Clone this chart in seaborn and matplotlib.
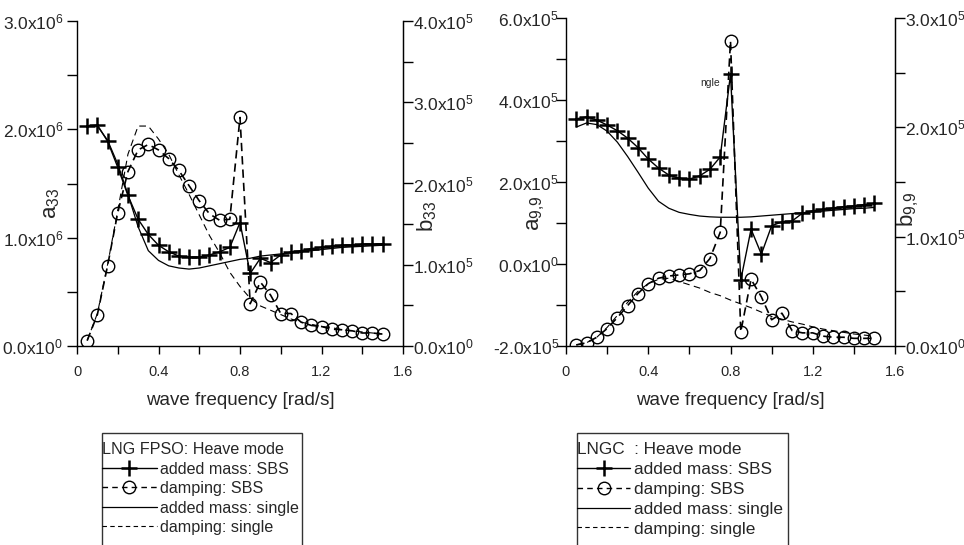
import numpy as np
import matplotlib
matplotlib.use('Agg')
import matplotlib.pyplot as plt
import seaborn as sns
from matplotlib.lines import Line2D
from matplotlib.patches import Rectangle
from matplotlib.ticker import MultipleLocator, FuncFormatter

sns.set_style('white')
plt.rcParams['font.family'] = ['Liberation Sans', 'DejaVu Sans']
plt.rcParams['mathtext.fontset'] = 'custom'
plt.rcParams['mathtext.rm'] = 'Liberation Sans'
plt.rcParams['mathtext.it'] = 'Liberation Sans:italic'

# wave frequency [rad/s]
freq = [0.05, 0.10, 0.15, 0.20, 0.25, 0.30, 0.35, 0.40, 0.45, 0.50,
        0.55, 0.60, 0.65, 0.70, 0.75, 0.80, 0.85, 0.90, 0.95, 1.00,
        1.05, 1.10, 1.15, 1.20, 1.25, 1.30, 1.35, 1.40, 1.45, 1.50]

# LNG FPSO heave: added mass in 1e6, damping in 1e5
fpso_am_sbs = [2.03, 2.04, 1.89, 1.65, 1.39, 1.17, 1.03, 0.93, 0.87, 0.83,
               0.82, 0.82, 0.84, 0.87, 0.91, 1.14, 0.67, 0.81, 0.77, 0.84,
               0.87, 0.88, 0.90, 0.91, 0.92, 0.93, 0.93, 0.94, 0.94, 0.945]
fpso_dmp_sbs = [0.067, 0.387, 0.987, 1.64, 2.147, 2.413, 2.48, 2.413, 2.307, 2.16,
                1.973, 1.787, 1.627, 1.547, 1.56, 2.813, 0.52, 0.787, 0.627, 0.40,
                0.40, 0.293, 0.253, 0.24, 0.207, 0.20, 0.187, 0.16, 0.16, 0.147]
fpso_am_single = [2.03, 2.03, 1.90, 1.68, 1.40, 1.10, 0.88, 0.79, 0.74, 0.72,
                  0.71, 0.72, 0.74, 0.76, 0.78, 0.80, 0.81, 0.83, 0.84, 0.85,
                  0.86, 0.87, 0.88, 0.89, 0.90, 0.91, 0.915, 0.92, 0.925, 0.93]
fpso_dmp_single = [0.067, 0.40, 1.00, 1.667, 2.36, 2.707, 2.707, 2.547, 2.36, 2.107,
                   1.867, 1.613, 1.36, 1.147, 0.907, 0.733, 0.587, 0.493, 0.44, 0.387,
                   0.333, 0.293, 0.267, 0.24, 0.227, 0.20, 0.187, 0.173, 0.16, 0.147]

# LNGC heave: added mass and damping in 1e5
lngc_am_sbs = [3.54, 3.59, 3.51, 3.39, 3.25, 3.07, 2.84, 2.56, 2.34, 2.17,
               2.09, 2.07, 2.15, 2.31, 2.61, 4.63, -0.39, 0.85, 0.24, 0.93,
               1.03, 1.05, 1.24, 1.30, 1.33, 1.37, 1.40, 1.42, 1.45, 1.48]
lngc_dmp_sbs = [0.01, 0.03, 0.08, 0.16, 0.26, 0.37, 0.48, 0.57, 0.62, 0.64,
                0.65, 0.66, 0.69, 0.80, 1.04, 2.79, 0.13, 0.61, 0.45, 0.24,
                0.30, 0.14, 0.12, 0.12, 0.09, 0.08, 0.08, 0.07, 0.07, 0.07]
lngc_am_single = [3.34, 3.44, 3.40, 3.24, 2.97, 2.62, 2.24, 1.85, 1.53, 1.36,
                  1.26, 1.21, 1.17, 1.15, 1.14, 1.14, 1.14, 1.15, 1.17, 1.19,
                  1.21, 1.23, 1.25, 1.27, 1.29, 1.31, 1.33, 1.35, 1.36, 1.38]
lngc_dmp_single = [0.01, 0.03, 0.08, 0.17, 0.28, 0.40, 0.50, 0.57, 0.61, 0.62,
                   0.59, 0.56, 0.53, 0.49, 0.46, 0.42, 0.385, 0.35, 0.31, 0.27,
                   0.245, 0.22, 0.20, 0.175, 0.155, 0.14, 0.125, 0.11, 0.10, 0.09]

legend_labels = ['added mass: SBS', 'damping: SBS', 'added mass: single', 'damping: single']


def sci_fmt(v, pos):
    if v == 0:
        return r'0.0x10$^{0}$'
    e = int(np.floor(np.log10(abs(v))))
    return r'%.1fx10$^{%d}$' % (v / 10**e, e)


def freq_fmt(v, pos):
    return '0' if abs(v) < 1e-9 else '%.1f' % v


def draw_panel(ax, am_sbs, dmp_sbs, am_single, dmp_single, am_scale, dmp_scale):
    axr = ax.twinx()
    sns.lineplot(x=freq, y=np.array(am_single) * am_scale, ax=ax, color='black', lw=0.9)
    sns.lineplot(x=freq, y=np.array(am_sbs) * am_scale, ax=ax, color='black', lw=1.0,
                 marker='+', markersize=11, markeredgewidth=1.8, markeredgecolor='black')
    sns.lineplot(x=freq, y=np.array(dmp_single) * dmp_scale, ax=axr, color='black', lw=0.8,
                 linestyle=(0, (6, 4)))
    sns.lineplot(x=freq, y=np.array(dmp_sbs) * dmp_scale, ax=axr, color='black', lw=1.2,
                 linestyle=(0, (5, 3)), marker='o', markersize=9, markerfacecolor='none',
                 markeredgewidth=1.0, markeredgecolor='black')
    for a in (ax, axr):
        a.spines['top'].set_visible(False)
        a.set_xlim(0, 1.6)
        a.tick_params(which='both', direction='out', length=7, width=1, color='black')
    axr.spines['left'].set_visible(False)
    axr.spines['bottom'].set_visible(False)
    for s in ('left', 'bottom'):
        ax.spines[s].set_color('black')
        ax.spines[s].set_linewidth(1)
    axr.spines['right'].set_color('black')
    axr.spines['right'].set_linewidth(1)
    ax.xaxis.set_major_locator(MultipleLocator(0.4))
    ax.xaxis.set_minor_locator(MultipleLocator(0.2))
    ax.xaxis.set_major_formatter(FuncFormatter(freq_fmt))
    ax.yaxis.set_major_formatter(FuncFormatter(sci_fmt))
    axr.yaxis.set_major_formatter(FuncFormatter(sci_fmt))
    ax.tick_params(axis='x', labelsize=10.5, pad=8, length=6, bottom=True, which='both')
    ax.tick_params(axis='y', labelsize=12.5, pad=3, left=True, which='both')
    axr.tick_params(axis='y', labelsize=12.5, pad=0, right=True, which='both')
    ax.set_xlabel('wave frequency [rad/s]', fontsize=13.5, labelpad=9)
    return axr


fig = plt.figure(figsize=(9.64, 5.45), dpi=100)
ax1 = fig.add_axes([77 / 964, 1 - 346 / 545, 326 / 964, 325 / 545])
ax2 = fig.add_axes([566 / 964, 1 - 346 / 545, 329 / 964, 328 / 545])

ax1r = draw_panel(ax1, fpso_am_sbs, fpso_dmp_sbs, fpso_am_single, fpso_dmp_single, 1e6, 1e5)
ax1.set_ylim(0, 3e6)
ax1.yaxis.set_major_locator(MultipleLocator(1e6))
ax1.yaxis.set_minor_locator(MultipleLocator(0.5e6))
ax1r.set_ylim(0, 4e5)
ax1r.yaxis.set_major_locator(MultipleLocator(1e5))
ax1r.yaxis.set_minor_locator(MultipleLocator(0.5e5))
ax1.set_ylabel(r'a$_{33}$', fontsize=16)
ax1.yaxis.set_label_coords(-0.046, 0.44)
ax1r.set_ylabel(r'b$_{33}$', fontsize=16)
ax1r.yaxis.set_label_coords(1.037, 0.40)

ax2r = draw_panel(ax2, lngc_am_sbs, lngc_dmp_sbs, lngc_am_single, lngc_dmp_single, 1e5, 1e5)
ax2.set_ylim(-2e5, 6e5)
ax2.yaxis.set_major_locator(MultipleLocator(2e5))
ax2.yaxis.set_minor_locator(MultipleLocator(1e5))
ax2.tick_params(axis='y', pad=-2)
ax2r.set_ylim(0, 3e5)
ax2r.yaxis.set_major_locator(MultipleLocator(1e5))
ax2r.yaxis.set_minor_locator(MultipleLocator(0.5e5))
ax2.set_ylabel(r'a$_{9{,}9}$', fontsize=16)
ax2.yaxis.set_label_coords(-0.058, 0.405)
ax2r.set_ylabel(r'b$_{9{,}9}$', fontsize=16)
ax2r.yaxis.set_label_coords(1.003, 0.418)
ax2.text(0.651, 4.41e5, 'ngle', fontsize=7.5, ha='left', va='center')

handles = [
    Line2D([], [], color='black', lw=1, marker='+', markersize=11, markeredgewidth=1.8),
    Line2D([], [], color='black', lw=1, linestyle=(0, (4, 3)), marker='o', markersize=9,
           markerfacecolor='none', markeredgewidth=1.0),
    Line2D([], [], color='black', lw=0.9),
    Line2D([], [], color='black', lw=0.8, linestyle=(0, (4, 3))),
]

for x0, w, title, fs, hl in [(102, 200, 'LNG FPSO: Heave mode', 11.6, 3.4),
                             (577, 211, 'LNGC  : Heave mode', 12.4, 3.1)]:
    fig.add_artist(Rectangle((x0 / 964, -0.05), w / 964, 1.05 - 433 / 545,
                             transform=fig.transFigure, fill=False,
                             edgecolor='#333333', lw=1))
    fig.legend(handles, legend_labels, title=title, loc='upper left',
               bbox_to_anchor=(x0 / 964, 1 - 442 / 545), frameon=False,
               alignment='left', fontsize=fs, title_fontsize=fs,
               handlelength=hl, handletextpad=0.2, borderpad=0, borderaxespad=0,
               labelspacing=0.28, numpoints=1)

fig.savefig('out.png', dpi=100, facecolor='white')
